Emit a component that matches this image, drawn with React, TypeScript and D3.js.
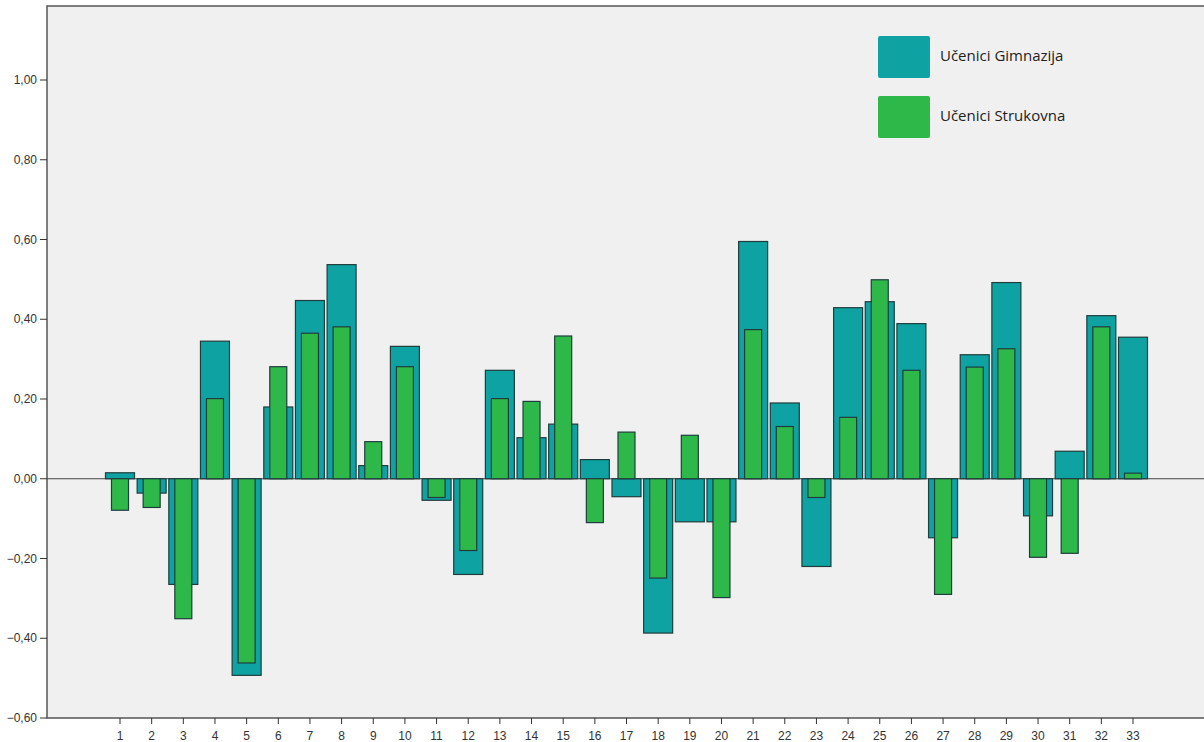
import React from "react";
import * as d3 from "d3";

const categories = Array.from({ length: 33 }, (_, i) => String(i + 1));
const gimnazija = [0.015, -0.036, -0.265, 0.345, -0.493, 0.18, 0.447, 0.537, 0.033, 0.332, -0.054, -0.24, 0.272, 0.103, 0.137, 0.048, -0.045, -0.387, -0.108, -0.108, 0.595, 0.19, -0.22, 0.429, 0.444, 0.389, -0.148, 0.311, 0.492, -0.093, 0.069, 0.409, 0.355];
const strukovna = [-0.079, -0.072, -0.351, 0.201, -0.462, 0.281, 0.365, 0.381, 0.093, 0.281, -0.047, -0.18, 0.201, 0.194, 0.358, -0.11, 0.117, -0.249, 0.109, -0.298, 0.374, 0.131, -0.047, 0.154, 0.499, 0.272, -0.29, 0.28, 0.326, -0.197, -0.187, 0.381, 0.014];
const yTicks = [-0.6, -0.4, -0.2, 0, 0.2, 0.4, 0.6, 0.8, 1.0];
const seriesNames = ["Učenici Gimnazija", "Učenici Strukovna"];
const colors = ["#0fa2a3", "#2fb84a"];

export default function App() {
  const W = 1204, H = 742;
  const left = 47, top = 6, bottom = 718, right = 1220;
  const y = d3.scaleLinear().domain([-0.6, 1.0]).range([718, 80]);
  const x = d3.scaleLinear().domain([1, 33]).range([120, 1133]);
  const wideW = 29, narrowW = 17;
  const y0 = y(0);
  const fmt = (v: number) => d3.format(".2f")(v).replace(".", ",").replace("-0,00", "0,00");
  const stroke = "#1f3d3d";
  return (
    <svg width={W} height={H} style={{ position: "absolute", left: 0, top: 0, background: "#fff" }}>
      <rect x={left} y={top} width={right - left} height={bottom - top} fill="#f0f0f0" stroke="#555" strokeWidth={1.5} />
      {yTicks.map((t) => (
        <g key={t}>
          <line x1={left - 7} x2={left} y1={y(t)} y2={y(t)} stroke="#333" />
          <text x={left - 10} y={y(t)} dy="0.35em" textAnchor="end" fontFamily="Liberation Sans, Arial, sans-serif" fontSize={12} fill="#333">{fmt(t)}</text>
        </g>
      ))}
      {categories.map((c, i) => (
        <g key={c}>
          <line x1={x(i + 1)} x2={x(i + 1)} y1={bottom} y2={bottom + 6} stroke="#333" />
          <text x={x(i + 1)} y={bottom + 22} textAnchor="middle" fontFamily="Liberation Sans, Arial, sans-serif" fontSize={12} fill="#333">{c}</text>
        </g>
      ))}
      <line x1={left} x2={right} y1={y0} y2={y0} stroke="#444" strokeWidth={1} />
      {gimnazija.map((v, i) => (
        <rect key={"g" + i} x={x(i + 1) - wideW / 2} width={wideW} y={Math.min(y(v), y0)} height={Math.abs(y(v) - y0)} fill={colors[0]} stroke={stroke} strokeWidth={1.2} />
      ))}
      {strukovna.map((v, i) => (
        <rect key={"s" + i} x={x(i + 1) - narrowW / 2} width={narrowW} y={Math.min(y(v), y0)} height={Math.abs(y(v) - y0)} fill={colors[1]} stroke={stroke} strokeWidth={1.2} />
      ))}
      {seriesNames.map((n, i) => (
        <g key={n} transform={`translate(878, ${36 + i * 60})`}>
          <rect width={52} height={42} rx={2} fill={colors[i]} />
          <text x={62} y={20} dy="0.35em" fontFamily="Open Sans, Noto Sans, sans-serif" fontSize={15} fill="#222">{n}</text>
        </g>
      ))}
    </svg>
  );
}
